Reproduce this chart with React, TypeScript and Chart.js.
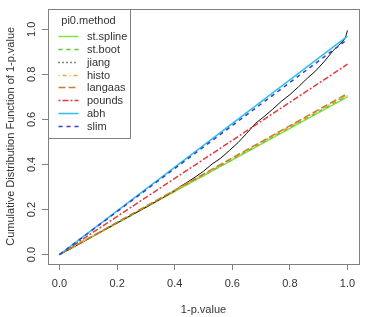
import React, { useEffect, useRef } from "react";
import { Chart, registerables } from "chart.js";
Chart.register(...registerables);

const methods = ["st.spline", "st.boot", "jiang", "histo", "langaas", "pounds", "abh", "slim"];
const lineX = [0, 1];
const stSpline = [0, 0.7];
const stBoot = [0, 0.705];
const histo = [0, 0.71];
const langaas = [0, 0.715];
const pounds = [0, 0.845];
const abh = [0, 0.97];
const slim = [0, 0.955];
const jiangX = [0, 0.04, 0.08, 0.12, 0.16, 0.2, 0.25, 0.3, 0.35, 0.4, 0.42, 0.44, 0.47, 0.5, 0.53, 0.56, 0.59, 0.62, 0.65, 0.68, 0.71, 0.74, 0.77, 0.8, 0.83, 0.86, 0.89, 0.92, 0.95, 0.97, 0.99, 0.995, 1.0];
const jiangY = [0, 0.027, 0.055, 0.084, 0.112, 0.14, 0.175, 0.21, 0.246, 0.283, 0.303, 0.318, 0.343, 0.37, 0.402, 0.428, 0.462, 0.497, 0.538, 0.582, 0.612, 0.645, 0.68, 0.71, 0.745, 0.782, 0.816, 0.858, 0.905, 0.93, 0.955, 0.972, 0.995];
const xTicks = [0, 0.2, 0.4, 0.6, 0.8, 1.0];
const yTicks = [0, 0.2, 0.4, 0.6, 0.8, 1.0];
const colors = ["#86e04a", "#5cc832", "#111111", "#f0a838", "#c8802c", "#e03c3c", "#2cc0f0", "#3c3cc8"];
const legendDashes = [[], [4, 4], [1, 3], [1, 3, 4, 3], [7, 3], [2, 2, 6, 2], [], [4, 4]];
const lineDashes = [[], [4, 4], [], [1, 3, 4, 3], [7, 3], [2, 2, 6, 2], [], [4, 4]];
const legendTitle = "pi0.method";

const FONT = "'Liberation Sans', Arial, sans-serif";
const TEXT = "#333333";
const GRAY = "#808080";

function pts(xs: number[], ys: number[]) {
  return xs.map((x, i) => ({ x, y: ys[i] }));
}

const boxLegendPlugin = {
  id: "boxLegend",
  afterDraw(chart: any) {
    const ctx = chart.ctx;
    const a = chart.chartArea;
    ctx.save();
    ctx.strokeStyle = GRAY;
    ctx.lineWidth = 1;
    ctx.setLineDash([]);
    ctx.strokeRect(Math.round(a.left) + 0.5, Math.round(a.top) + 0.5, Math.round(a.right - a.left), Math.round(a.bottom - a.top));
    const lx = Math.round(a.left) + 0.5;
    const ly = Math.round(a.top) + 0.5;
    const lw = 82;
    const lh = 129;
    ctx.fillStyle = "#ffffff";
    ctx.fillRect(lx, ly, lw, lh);
    ctx.strokeRect(lx, ly, lw, lh);
    ctx.font = `11px ${FONT}`;
    ctx.fillStyle = TEXT;
    ctx.textBaseline = "middle";
    ctx.textAlign = "center";
    ctx.fillText(legendTitle, lx + 40, ly + 11);
    ctx.textAlign = "left";
    chart.data.datasets.forEach((ds: any, i: number) => {
      const y = Math.round(ly + 26.5 + i * 12.85) + 0.5;
      ctx.strokeStyle = ds.borderColor;
      ctx.lineWidth = 1.5;
      ctx.setLineDash(legendDashes[i]);
      ctx.beginPath();
      ctx.moveTo(lx + 10, y);
      ctx.lineTo(lx + 30, y);
      ctx.stroke();
      ctx.fillStyle = TEXT;
      ctx.fillText(ds.label, lx + 38.5, y);
    });
    ctx.restore();
  },
};

export default function App() {
  const ref = useRef<HTMLCanvasElement>(null);
  useEffect(() => {
    if (!ref.current) return;
    const series = [stSpline, stBoot, null, histo, langaas, pounds, abh, slim];
    const datasets = methods.map((m, i) => ({
      label: m,
      data: i === 2 ? pts(jiangX, jiangY) : pts(lineX, series[i] as number[]),
      borderColor: colors[i],
      borderDash: lineDashes[i],
      borderWidth: i === 2 ? 1 : 1.5,
      pointRadius: 0,
      fill: false,
      tension: 0,
      order: methods.length - i,
    }));
    const chart = new Chart(ref.current, {
      type: "line",
      data: { datasets },
      plugins: [boxLegendPlugin],
      options: {
        animation: false,
        responsive: false,
        layout: { padding: { top: 4, right: 8, left: 0, bottom: 0 } },
        plugins: { legend: { display: false }, tooltip: { enabled: false } },
        scales: {
          x: {
            type: "linear",
            min: -0.04,
            max: 1.04,
            afterBuildTicks: (s: any) => { s.ticks = xTicks.map((v) => ({ value: v })); },
            afterFit: (s: any) => { s.height = 53; },
            grid: { display: true, drawOnChartArea: false, drawTicks: true, tickLength: 6, color: GRAY },
            border: { display: false },
            ticks: {
              padding: 7,
              color: TEXT,
              font: { family: FONT, size: 11 },
              maxRotation: 0,
              callback: (v: any) => Number(v).toFixed(1),
            },
            title: { display: true, text: "1-p.value", color: TEXT, font: { family: FONT, size: 11 }, padding: { top: 0, bottom: 0 } },
          },
          y: {
            type: "linear",
            min: -0.042,
            max: 1.092,
            afterBuildTicks: (s: any) => { s.ticks = yTicks.map((v) => ({ value: v })); },
            afterFit: (s: any) => { s.width = 48; },
            grid: { display: true, drawOnChartArea: false, drawTicks: true, tickLength: 6, color: GRAY },
            border: { display: false },
            ticks: {
              padding: 2,
              color: TEXT,
              font: { family: FONT, size: 11 },
              minRotation: 90,
              maxRotation: 90,
              crossAlign: "center",
              callback: (v: any) => Number(v).toFixed(1),
            },
            title: { display: true, text: "Cumulative Distribution Function of 1-p.value", color: TEXT, font: { family: FONT, size: 11 }, padding: { top: 4, bottom: 0 } },
          },
        },
      } as any,
    });
    return () => chart.destroy();
  }, []);
  return (
    <div style={{ position: "fixed", left: 0, top: 0, width: 367, height: 317, background: "#fff" }}>
      <canvas ref={ref} width={367} height={317} />
    </div>
  );
}
